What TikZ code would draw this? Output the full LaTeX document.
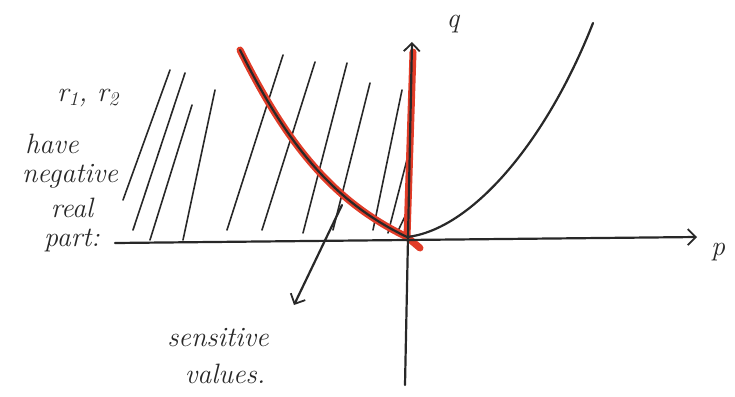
\documentclass[tikz,border=0pt]{standalone}
\usetikzlibrary{arrows.meta}
\definecolor{ink}{RGB}{40,40,40}
\definecolor{redpen}{RGB}{225,60,40}
\tikzset{
  inkline/.style={draw=ink, line width=2.2pt, line cap=round, line join=round},
  hatch/.style={draw=ink, line width=1.6pt, line cap=round},
  redline/.style={draw=redpen, line width=7pt, line cap=round, line join=round},
  chev/.style={-{Straight Barb[length=8pt,width=16pt,line width=1.8pt]}},
  hand/.style={text=ink, font=\itshape\fontsize{28}{30}\selectfont, inner sep=0pt, align=center}
}
\begin{document}
\begin{tikzpicture}[x=1pt,y=-1pt]
\useasboundingbox (0,0) rectangle (735,396);
% hatching
\foreach \a/\b in {{123,200}/{170,70},{133,230}/{185,73},{150,240}/{192,105},{183,240}/{215,90},{227,230}/{283,55},{262,230}/{315,62},{303,233}/{347,63},{333,230}/{370,83},{373,230}/{402,90},{388,233}/{410,148},{397,233}/{408,210}}
  \draw[hatch] (\a) -- (\b);
% red highlights
\coordinate (rc0) at (240,50);
\coordinate (O) at (407,237);
\coordinate (rcEnd) at (420,248);
\coordinate (qtop) at (413,52);
\draw[redline] (rc0) .. controls (285,140) and (330,200) .. (O) -- (rcEnd);
\draw[redline] (O) -- (qtop);
% black curve
\coordinate (bc1) at (593,23);
\draw[inkline] (rc0) .. controls (285,140) and (330,200) .. (O)
  .. controls (470,230) and (545,145) .. (bc1);
% axes
\coordinate (pleft) at (115,243);
\coordinate (pright) at (697,237);
\coordinate (qbot) at (405,385);
\coordinate (qend) at (412,42);
\draw[inkline, chev] (pleft) -- (pright);
\draw[inkline, chev] (qbot) -- (qend);
% arrow to sensitive values
\coordinate (sa) at (342,205);
\coordinate (sb) at (294,305);
\draw[inkline, chev] (sa) -- (sb);
% labels
\node[hand] (q) at (453,24) {q};
\node[hand] (p) at (718,252) {p};
\node[hand] (r) at (88,98) {r\textsubscript{1}, r\textsubscript{2}};
\node[hand] (have) at (52,144) {have};
\node[hand] (neg) at (70,176) {negative};
\node[hand] (real) at (72,208) {real};
\node[hand] (part) at (72,240) {part:};
\node[hand] (sens) at (218,338) {sensitive};
\node[hand] (vals) at (225,374) {values.};
\end{tikzpicture}
\end{document}
